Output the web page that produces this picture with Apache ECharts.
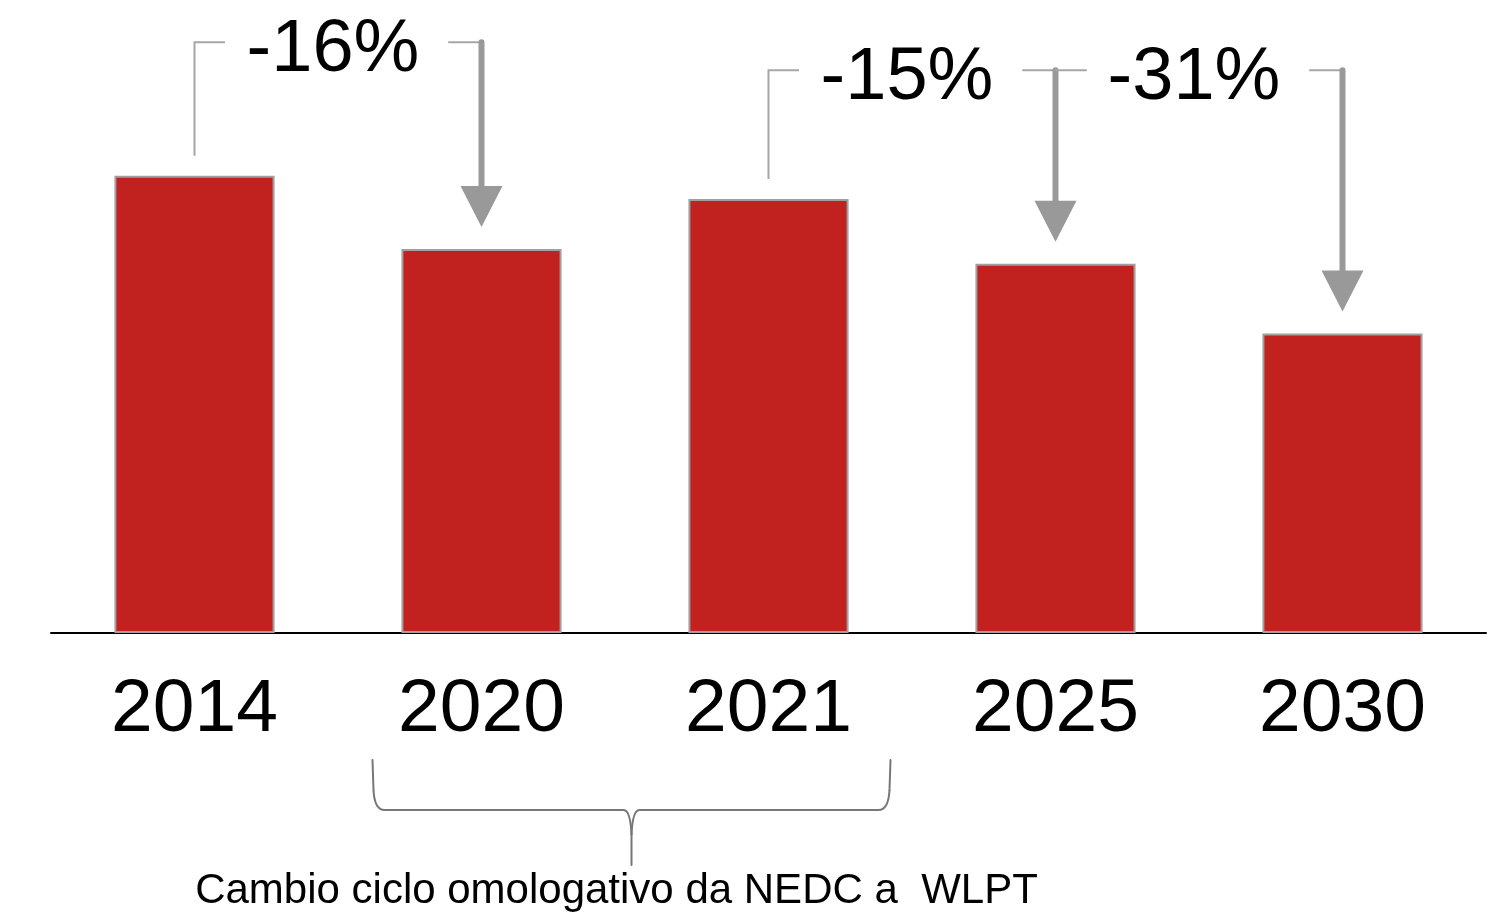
<!DOCTYPE html>
<html>
<head>
<meta charset="utf-8">
<script src="https://cdn.jsdelivr.net/npm/echarts@6/dist/echarts.min.js"></script>
<style>
  html, body { margin: 0; padding: 0; background: #fff; }
  #chart { width: 1511px; height: 916px; }
</style>
</head>
<body>
<div id="chart"></div>
<script>
// dati (unità relative, 2014 = 130)
const years = ['2014', '2020', '2021', '2025', '2030']
const values = [130, 109.2, 123.4, 105, 85.2]

// frecce di riduzione: da anno -> ad anno
const arrowFrom = ['2014', '2021', '2025']
const arrowTo = ['2020', '2025', '2030']
const arrowLabels = ['-16%', '-15%', '-31%']
const arrowLevels = [168, 160, 160]

// graffa sotto l'asse
const braceYears = ['2020', '2021']
const braceNote = 'Cambio ciclo omologativo da NEDC a  WLPT'

const FONT = '"Liberation Sans", Arial, sans-serif'
const GREY_THIN = '#A6A6A6'
const GREY_ARROW = '#999999'

const chart = echarts.init(document.getElementById('chart'))

chart.setOption({
  animation: false,
  grid: { left: 51, right: 25, top: 0, bottom: 283 },
  xAxis: {
    type: 'category',
    data: years,
    axisTick: { show: false },
    axisLine: { lineStyle: { color: '#000', width: 2 } },
    axisLabel: {
      color: '#000',
      fontSize: 75,
      fontFamily: FONT,
      margin: 40,
    },
  },
  yAxis: {
    type: 'value',
    min: 0,
    max: 180,
    show: false,
    splitLine: { show: false },
  },
  series: [
    {
      type: 'bar',
      data: values,
      barWidth: '55.8%',
      itemStyle: {
        color: '#C1221F',
        borderColor: '#A0A0A0',
        borderWidth: 2,
      },
    },
  ],
})

const px = (year, value) => chart.convertToPixel({ gridIndex: 0 }, [year, value])
const valueOf = (year) => values[years.indexOf(year)]

const graphics = []
const seg = (x1, y1, x2, y2, color, width) => ({
  type: 'line',
  shape: { x1, y1, x2, y2 },
  style: { stroke: color, lineWidth: width, lineCap: 'round' },
})

arrowLabels.forEach((label, i) => {
  const from = arrowFrom[i]
  const to = arrowTo[i]
  const [x1] = px(from, 0)
  const [x2] = px(to, 0)
  const yLevel = px(from, arrowLevels[i])[1]
  const tc = (x1 + x2) / 2 - 5

  // linea verticale sottile sopra la barra di partenza (solo se non è già una freccia)
  if (arrowTo.indexOf(from) === -1) {
    const yStart = px(from, valueOf(from))[1] - 20
    graphics.push({
      type: 'polyline',
      shape: { points: [[x1, yStart], [x1, yLevel], [tc - 108, yLevel]] },
      style: { stroke: GREY_THIN, lineWidth: 2, fill: null },
    })
  } else {
    graphics.push(seg(x1, yLevel, tc - 108, yLevel, GREY_THIN, 2))
  }
  graphics.push(seg(tc + 116, yLevel, x2, yLevel, GREY_THIN, 2))

  graphics.push({
    type: 'text',
    x: tc,
    y: yLevel + 8,
    style: {
      text: label,
      fill: '#000',
      font: '74px ' + FONT,
      align: 'center',
      verticalAlign: 'middle',
    },
  })

  // freccia spessa verso la barra di arrivo
  const tip = px(to, valueOf(to))[1] - 22
  graphics.push(seg(x2, yLevel, x2, tip - 30, GREY_ARROW, 6))
  graphics.push({
    type: 'polygon',
    shape: { points: [[x2 - 21, tip - 41], [x2 + 21, tip - 41], [x2, tip]] },
    style: { fill: GREY_ARROW },
  })
})

// graffa
const [bx1base, yAxisPx] = px(braceYears[0], 0)
const [bx2base] = px(braceYears[1], 0)
const bx1 = bx1base - 109
const bx2 = bx2base + 122
const bmid = (bx1 + bx2) / 2
const yTop = yAxisPx + 127
const yBar = yAxisPx + 177
const yTip = yAxisPx + 232
const BRACE = '#777777'
const curve = (x1, y1, cx, cy, x2, y2) => ({
  type: 'bezierCurve',
  shape: { x1, y1, x2, y2, cpx1: cx, cpy1: cy },
  style: { stroke: BRACE, lineWidth: 2, fill: null },
})

graphics.push(seg(bx1, yTop, bx1 + 1, yBar - 20, BRACE, 2))
graphics.push(curve(bx1 + 1, yBar - 20, bx1 + 2, yBar, bx1 + 12, yBar))
graphics.push(seg(bx1 + 12, yBar, bmid - 8, yBar, BRACE, 2))
graphics.push(curve(bmid - 8, yBar, bmid - 1, yBar, bmid, yBar + 25))
graphics.push(curve(bmid + 8, yBar, bmid + 1, yBar, bmid, yBar + 25))
graphics.push(seg(bmid, yBar + 25, bmid, yTip, BRACE, 2))
graphics.push(seg(bmid + 8, yBar, bx2 - 12, yBar, BRACE, 2))
graphics.push(curve(bx2 - 12, yBar, bx2 - 2, yBar, bx2 - 1, yBar - 20))
graphics.push(seg(bx2 - 1, yBar - 20, bx2, yTop, BRACE, 2))

graphics.push({
  type: 'text',
  x: bmid - 15,
  y: yTip + 26,
  style: {
    text: braceNote,
    fill: '#000',
    font: '42px ' + FONT,
    align: 'center',
    verticalAlign: 'middle',
  },
})

chart.setOption({ graphic: graphics })

window.addEventListener('resize', () => chart.resize())
</script>
</body>
</html>
